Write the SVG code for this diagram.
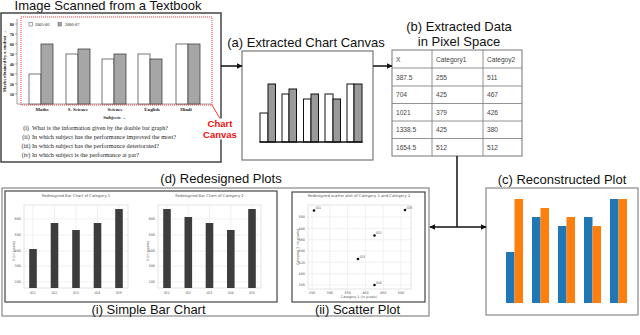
<svg xmlns="http://www.w3.org/2000/svg" width="640" height="335" viewBox="0 0 640 335">
<defs>
<style>
.t{font-family:"Liberation Sans",Arial,sans-serif;fill:#111}
.big{font-size:13px}
.serif{font-family:"Liberation Serif","Times New Roman",serif;fill:#222}
.sb{font-family:"Liberation Serif","Times New Roman",serif;fill:#222;font-weight:bold}
.wb{fill:#fff;stroke:#555;stroke-width:0.8}
.gb{fill:#a6a6a6;stroke:#444;stroke-width:0.8}
.cw{fill:#fff;stroke:#111;stroke-width:1}
.cg{fill:#9a9a9a;stroke:#111;stroke-width:1}
.tbl{font-family:"Liberation Sans",Arial,sans-serif;font-size:6.6px;fill:#444}
.grid{stroke:#e2e2e2;stroke-width:0.5}
.frame{fill:#fff;stroke:#cfcfcf;stroke-width:0.6}
.tiny{font-family:"DejaVu Sans",sans-serif;font-size:3.4px;fill:#555}
.ttl{font-family:"DejaVu Sans",sans-serif;font-size:3.8px;fill:#555}
.bar{fill:#3d3d3d}
.blue{fill:#1f77b4}
.orange{fill:#ff7f0e}
.conn{stroke:#111;stroke-width:1.5;fill:none}
</style>
<marker id="ah" viewBox="0 0 10 10" refX="9" refY="5" markerWidth="6" markerHeight="6" orient="auto" markerUnits="userSpaceOnUse">
<path d="M0,0 L10,5 L0,10 z" fill="#111"/>
</marker>
</defs>
<rect width="640" height="335" fill="#fff"/>

<!-- Textbook node -->
<g id="textbook">
<text class="t big" x="108" y="10" text-anchor="middle">Image Scanned from a Textbook</text>
<rect x="1" y="13" width="220" height="149" fill="#fff" stroke="#444" stroke-width="1.5"/>
<text class="sb" font-size="4.6" transform="translate(6,61) rotate(-90)" text-anchor="middle">Marks obtained by a student →</text>
<g class="sb" font-size="4.3" text-anchor="end">
<text x="14" y="25.5">80</text><text x="14" y="35.5">70</text><text x="14" y="45.5">60</text><text x="14" y="55.5">50</text>
<text x="14" y="65.5">40</text><text x="14" y="75.5">30</text><text x="14" y="85.5">20</text><text x="14" y="95.5">10</text>
</g>
<path d="M17,19 V104 H212 M15,24 H17 M15,34 H17 M15,44 H17 M15,54 H17 M15,64 H17 M15,74 H17 M15,84 H17 M15,94 H17" stroke="#666" stroke-width="0.6" fill="none"/>
<rect x="29" y="22.5" width="3.5" height="3.5" fill="#fff" stroke="#555" stroke-width="0.5"/>
<text class="serif" font-size="4.3" x="35" y="26">2005-06</text>
<rect x="58" y="22.5" width="3.5" height="3.5" fill="#a6a6a6" stroke="#555" stroke-width="0.5"/>
<text class="serif" font-size="4.3" x="65" y="26">2006-07</text>
<rect class="wb" x="29" y="74" width="12" height="30"/><rect class="gb" x="41" y="44" width="12" height="60"/>
<rect class="wb" x="66" y="54" width="12" height="50"/><rect class="gb" x="78" y="49" width="12" height="55"/>
<rect class="wb" x="102" y="59" width="12" height="45"/><rect class="gb" x="114" y="54" width="12" height="50"/>
<rect class="wb" x="138" y="54" width="12" height="50"/><rect class="gb" x="150" y="59" width="12" height="45"/>
<rect class="wb" x="176" y="44" width="12" height="60"/><rect class="gb" x="188" y="44" width="12" height="60"/>
<rect x="21" y="17" width="191" height="88" fill="none" stroke="#f00" stroke-width="0.8" stroke-dasharray="1,1"/>
<g class="sb" font-size="4.8" text-anchor="middle">
<text x="42" y="111">Maths</text><text x="78" y="111">S. Science</text><text x="115" y="111">Science</text><text x="152" y="111">English</text><text x="186" y="111">Hindi</text>
<text x="115" y="119">Subjects →</text>
</g>
<g class="serif" font-size="6">
<text x="26" y="130" text-anchor="middle">(i)</text><text x="32" y="130" textLength="136" lengthAdjust="spacingAndGlyphs">What is the information given by the double bar graph?</text>
<text x="26" y="139" text-anchor="middle">(ii)</text><text x="32" y="139" textLength="144" lengthAdjust="spacingAndGlyphs">In which subject has the performance improved the most?</text>
<text x="26" y="148" text-anchor="middle">(iii)</text><text x="32" y="148" textLength="127" lengthAdjust="spacingAndGlyphs">In which subject has the performance deteriorated?</text>
<text x="26" y="157" text-anchor="middle">(iv)</text><text x="32" y="157" textLength="107" lengthAdjust="spacingAndGlyphs">In which subject is the performance at par?</text>
</g>
<path d="M212,105 L220,118.5" stroke="#f00" stroke-width="0.8"/>
<rect x="201" y="118.5" width="38" height="21" fill="#fff"/>
<text x="220" y="127" text-anchor="middle" font-family="Liberation Sans,Arial,sans-serif" font-weight="bold" font-size="9.5" fill="#f01010">Chart</text>
<text x="220" y="137.5" text-anchor="middle" font-family="Liberation Sans,Arial,sans-serif" font-weight="bold" font-size="9.5" fill="#f01010">Canvas</text>
</g>

<!-- Extracted chart canvas -->
<g id="canvas">
<text class="t big" x="306" y="47" text-anchor="middle">(a) Extracted Chart Canvas</text>
<rect x="242" y="51" width="131" height="109" fill="#fff" stroke="#777" stroke-width="1.2"/>
<rect class="cw" x="260" y="113" width="8" height="29"/><rect class="cg" x="268" y="84" width="7.5" height="58"/>
<rect class="cw" x="282" y="94" width="7" height="48"/><rect class="cg" x="289" y="89" width="7.5" height="53"/>
<rect class="cw" x="303.5" y="99" width="7.5" height="43"/><rect class="cg" x="311" y="94" width="7.5" height="48"/>
<rect class="cw" x="325" y="94" width="8" height="48"/><rect class="cg" x="333" y="99" width="7.5" height="43"/>
<rect class="cw" x="347" y="84" width="7" height="58"/><rect class="cg" x="354" y="84" width="8" height="58"/>
<path d="M259.5,142 H362.5" stroke="#111" stroke-width="1.6"/>
</g>

<!-- Extracted data table -->
<g id="table">
<text class="t big" x="459" y="31" text-anchor="middle">(b) Extracted Data</text>
<text class="t big" x="459" y="45.5" text-anchor="middle">in Pixel Space</text>
<rect x="392" y="50" width="130" height="106" fill="#fff" stroke="#777" stroke-width="1"/>
<path d="M392,68 H522 M392,86 H522 M392,103.5 H522 M392,121 H522 M392,138.5 H522 M432,50 V156 M483,50 V156" stroke="#777" stroke-width="0.8" fill="none"/>
<g class="tbl">
<text x="396" y="61.5">X</text><text x="436" y="61.5">Category1</text><text x="487" y="61.5">Categoy2</text>
<text x="396" y="79.5">387.5</text><text x="436" y="79.5">255</text><text x="487" y="79.5">511</text>
<text x="396" y="97">704</text><text x="436" y="97">425</text><text x="487" y="97">467</text>
<text x="396" y="114.5">1021</text><text x="436" y="114.5">379</text><text x="487" y="114.5">426</text>
<text x="396" y="132">1338.5</text><text x="436" y="132">425</text><text x="487" y="132">380</text>
<text x="396" y="149.5">1654.5</text><text x="436" y="149.5">512</text><text x="487" y="149.5">512</text>
</g>
</g>

<!-- Reconstructed plot -->
<g id="reconstructed">
<text class="t big" x="562" y="184" text-anchor="middle">(c) Reconstructed Plot</text>
<rect x="486" y="188" width="152" height="127" fill="#fff" stroke="#888" stroke-width="1.2"/>
<rect class="blue" x="506" y="252" width="8.5" height="51"/><rect class="orange" x="514.5" y="199" width="8.5" height="104"/>
<rect class="blue" x="532" y="217" width="8.5" height="86"/><rect class="orange" x="540.5" y="208" width="8.5" height="95"/>
<rect class="blue" x="558" y="226" width="8.5" height="77"/><rect class="orange" x="566.5" y="217" width="8.5" height="86"/>
<rect class="blue" x="584" y="217" width="8.5" height="86"/><rect class="orange" x="592.5" y="226" width="8.5" height="77"/>
<rect class="blue" x="610" y="199" width="8.5" height="104"/><rect class="orange" x="618.5" y="199" width="8.5" height="104"/>
</g>

<!-- Redesigned plots -->
<g id="redesigned">
<text class="t big" x="221" y="183" text-anchor="middle">(d) Redesigned Plots</text>
<rect x="2" y="188" width="427" height="128" fill="#fff" stroke="#888" stroke-width="1.2"/>
<rect x="5" y="191" width="272" height="111" fill="#fff" stroke="#444" stroke-width="1.2"/>
<text class="t big" x="148.5" y="314" text-anchor="middle">(i) Simple Bar Chart</text>
<rect x="292" y="192" width="133" height="110" fill="#fff" stroke="#444" stroke-width="1.2"/>
<text class="t big" x="357.5" y="314" text-anchor="middle">(ii) Scatter Plot</text>
</g>

<g id="barchart1">
<text class="ttl" x="76" y="197" text-anchor="middle">Redesigned Bar Chart of Category 1</text>
<rect class="frame" x="24" y="205" width="104" height="83"/>
<path class="grid" d="M33,205V288 M54.5,205V288 M76,205V288 M97.5,205V288 M119,205V288 M24,219H128 M24,235H128 M24,251H128 M24,266H128 M24,282H128"/>
<rect class="bar" x="29.2" y="249" width="7.6" height="39"/>
<rect class="bar" x="50.7" y="223" width="7.6" height="65"/>
<rect class="bar" x="72.2" y="230" width="7.6" height="58"/>
<rect class="bar" x="93.7" y="223" width="7.6" height="65"/>
<rect class="bar" x="115.2" y="209" width="7.6" height="79"/>
<g class="tiny" text-anchor="end"><text x="21" y="220.2">600</text><text x="21" y="236.2">500</text><text x="21" y="252.2">400</text><text x="21" y="267.2">300</text><text x="21" y="283.2">200</text></g>
<text class="tiny" transform="translate(14.5,251) rotate(-90)" text-anchor="middle">Y (in pixels)</text>
<g class="tiny" text-anchor="middle"><text x="33" y="294">ID1</text><text x="54.5" y="294">ID2</text><text x="76" y="294">ID3</text><text x="97.5" y="294">ID4</text><text x="119" y="294">ID5</text></g>
</g>

<g id="barchart2">
<text class="ttl" x="209.5" y="197" text-anchor="middle">Redesigned Bar Chart of Category 2</text>
<rect class="frame" x="158" y="205" width="103" height="83"/>
<path class="grid" d="M167,205V288 M188.3,205V288 M209.5,205V288 M230.8,205V288 M252,205V288 M158,219H261 M158,235H261 M158,251H261 M158,266H261 M158,282H261"/>
<rect class="bar" x="163.2" y="209" width="7.6" height="79"/>
<rect class="bar" x="184.5" y="217" width="7.6" height="71"/>
<rect class="bar" x="205.7" y="223" width="7.6" height="65"/>
<rect class="bar" x="227" y="230" width="7.6" height="58"/>
<rect class="bar" x="248.2" y="209" width="7.6" height="79"/>
<g class="tiny" text-anchor="end"><text x="155" y="220.2">600</text><text x="155" y="236.2">500</text><text x="155" y="252.2">400</text><text x="155" y="267.2">300</text><text x="155" y="283.2">200</text></g>
<text class="tiny" transform="translate(148.5,251) rotate(-90)" text-anchor="middle">Y (in pixels)</text>
<g class="tiny" text-anchor="middle"><text x="167" y="294">ID1</text><text x="188.3" y="294">ID2</text><text x="209.5" y="294">ID3</text><text x="230.8" y="294">ID4</text><text x="252" y="294">ID5</text></g>
</g>

<g id="scatter">
<text class="ttl" x="359" y="197" text-anchor="middle">Redesigned scatter plot of Category 1 and Category 2</text>
<rect class="frame" x="308" y="205" width="103" height="84"/>
<path class="grid" d="M312,205V289 M329.8,205V289 M347.6,205V289 M365.4,205V289 M383.2,205V289 M401,205V289 M308,217H411 M308,228.3H411 M308,239.7H411 M308,251H411 M308,262.3H411 M308,273.7H411 M308,285H411"/>
<g fill="#111">
<circle cx="314" cy="210.5" r="1.3"/><circle cx="374.5" cy="235.5" r="1.3"/><circle cx="358" cy="259" r="1.3"/><circle cx="374.5" cy="285" r="1.3"/><circle cx="405" cy="210" r="1.3"/>
</g>
<g class="tiny" font-size="2.6">
<text x="315.5" y="209">ID1</text><text x="376" y="234">ID2</text><text x="359.5" y="257.5">ID3</text><text x="376" y="283.5">ID4</text><text x="406.5" y="208.5">ID5</text>
</g>
<g class="tiny" text-anchor="end"><text x="305" y="218.2">500</text><text x="305" y="229.5">480</text><text x="305" y="240.9">460</text><text x="305" y="252.2">440</text><text x="305" y="263.5">420</text><text x="305" y="274.9">400</text><text x="305" y="286.2">380</text></g>
<text class="tiny" transform="translate(299,247) rotate(-90)" text-anchor="middle">Category 2 (in pixels)</text>
<g class="tiny" text-anchor="middle"><text x="312" y="293.5">250</text><text x="329.8" y="293.5">300</text><text x="347.6" y="293.5">350</text><text x="365.4" y="293.5">400</text><text x="383.2" y="293.5">450</text><text x="401" y="293.5">500</text></g>
<text class="tiny" x="359" y="298" text-anchor="middle">Category 1 (in pixels)</text>
</g>

<!-- Connectors -->
<g id="connectors">
<path class="conn" d="M221,66 H242" marker-end="url(#ah)"/>
<path class="conn" d="M373,66 H392" marker-end="url(#ah)"/>
<path class="conn" d="M457,156 V227"/>
<path class="conn" d="M457,227 H430" marker-end="url(#ah)"/>
<path class="conn" d="M457,227 H486" marker-end="url(#ah)"/>
</g>
</svg>
